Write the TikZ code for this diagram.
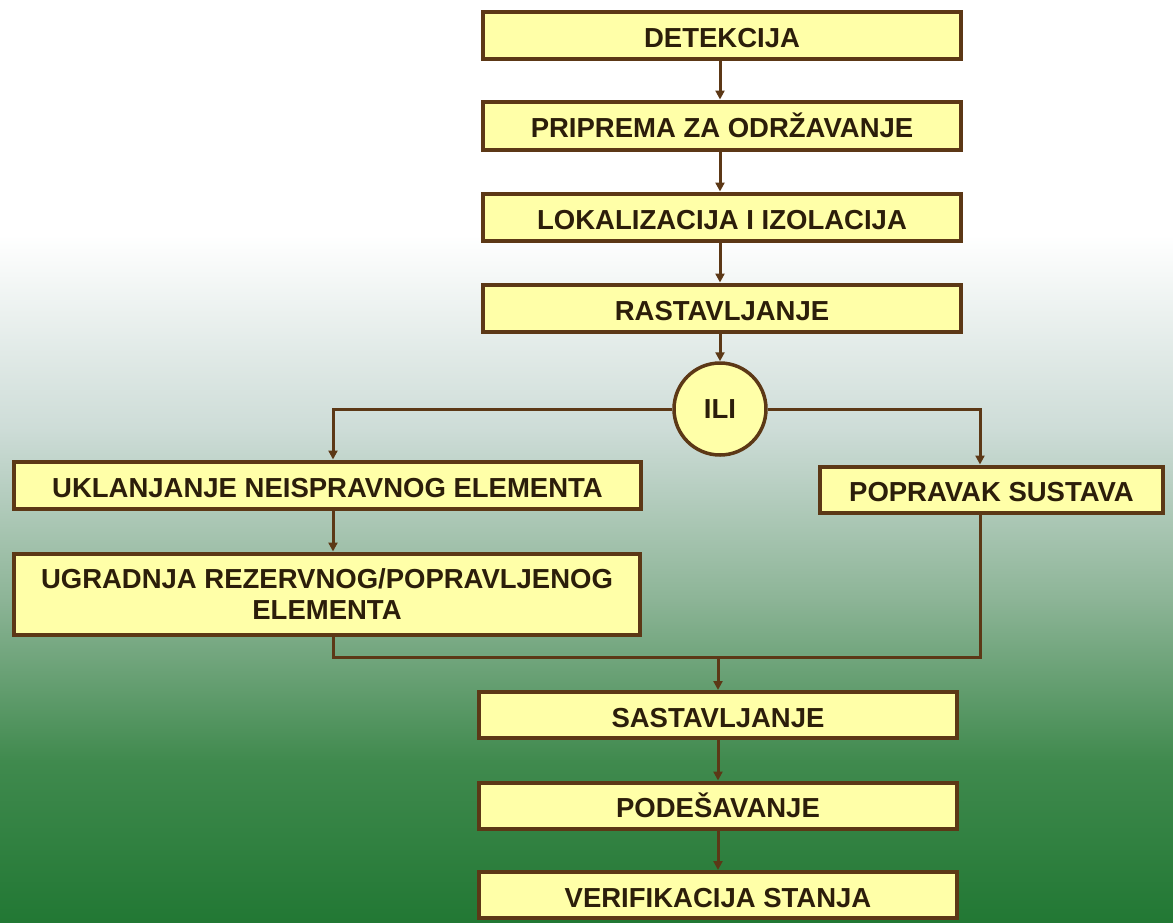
\documentclass[tikz,border=0pt]{standalone}
\usepackage{fontspec}
\setmainfont{Liberation Sans}
\usetikzlibrary{arrows.meta,calc}
\definecolor{boxfill}{RGB}{255,255,168}
\definecolor{boxline}{RGB}{92,56,22}
\definecolor{txt}{RGB}{44,30,10}
\definecolor{bgA}{RGB}{255,255,255}
\definecolor{bgB}{RGB}{205,220,215}
\definecolor{bgC}{RGB}{140,180,150}
\definecolor{bgD}{RGB}{64,138,78}
\definecolor{bgE}{RGB}{34,120,52}
\tikzset{
  stepbox/.style={draw=boxline, line width=4pt, fill=boxfill, rectangle,
    inner sep=0pt, text=txt, font=\fontsize{27.5}{31.5}\selectfont\bfseries,
    align=center},
  onebox/.style={stepbox, text height=24pt, text depth=0pt},
  orbox/.style={draw=boxline, line width=3.5pt, fill=boxfill, circle,
    inner sep=0pt, minimum size=92pt, text=txt,
    font=\fontsize{27.5}{31}\selectfont\bfseries},
  conn/.style={draw=boxline, line width=3pt},
  arr/.style={conn, -{Triangle[length=9pt,width=9pt]}}
}
\begin{document}
\begin{tikzpicture}[x=1pt,y=-1pt]
\useasboundingbox (0,0) rectangle (1173,922);
% background
\fill[bgA] (0,0) rectangle (1173,236);
\shade[top color=bgA,bottom color=bgB] (0,235) rectangle (1173,431);
\shade[top color=bgB,bottom color=bgC] (0,430) rectangle (1173,601);
\shade[top color=bgC,bottom color=bgD] (0,600) rectangle (1173,761);
\shade[top color=bgD,bottom color=bgE] (0,760) rectangle (1173,922);

% nodes
\node[onebox, minimum width=478pt, minimum height=47pt] (det) at (722,35) {DETEKCIJA};
\node[onebox, minimum width=478pt, minimum height=48pt] (pri) at (722,125.5) {PRIPREMA ZA ODRŽAVANJE};
\node[onebox, minimum width=478pt, minimum height=47pt] (lok) at (722,217) {LOKALIZACIJA I IZOLACIJA};
\node[onebox, minimum width=478pt, minimum height=47pt] (ras) at (722,308) {RASTAVLJANJE};
\node[orbox] (ili) at (720,409) {ILI};
\node[onebox, minimum width=627pt, minimum height=47pt] (ukl) at (327.5,485) {UKLANJANJE NEISPRAVNOG ELEMENTA};
\node[stepbox, minimum width=626pt, minimum height=81pt] (ugr) at (327,594) {UGRADNJA REZERVNOG/POPRAVLJENOG\\ELEMENTA};
\node[onebox, minimum width=343pt, minimum height=46pt] (pop) at (991.5,489.5) {POPRAVAK SUSTAVA};
\node[onebox, minimum width=478pt, minimum height=46pt] (sas) at (718,715) {SASTAVLJANJE};
\node[onebox, minimum width=478pt, minimum height=46pt] (pod) at (718,805.5) {PODEŠAVANJE};
\node[onebox, minimum width=478pt, minimum height=46pt] (ver) at (718,895) {VERIFIKACIJA STANJA};

% helper coordinates
\coordinate (xl) at (333,0);
\coordinate (xr) at (980,0);
\coordinate (xm) at (720,0);
\coordinate (jn) at (0,657);

% connectors
\draw[arr] (det.south -| xm) -- (pri.north -| xm);
\draw[arr] (pri.south -| xm) -- (lok.north -| xm);
\draw[arr] (lok.south -| xm) -- (ras.north -| xm);
\draw[arr] (ras.south -| ili.north) -- (ili.north);
\draw[arr] (ili.west) -- (ili.west -| xl) -- (ukl.north -| xl);
\draw[arr] (ili.east) -- (ili.east -| xr) -- (pop.north -| xr);
\draw[arr] (ukl.south -| xl) -- (ugr.north -| xl);
\draw[conn] (ugr.south -| xl) -- (jn -| xl) -- (jn -| xr) -- (pop.south -| xr);
\draw[arr] (jn -| sas.north) -- (sas.north);
\draw[arr] (sas.south) -- (pod.north);
\draw[arr] (pod.south) -- (ver.north);
\end{tikzpicture}
\end{document}
